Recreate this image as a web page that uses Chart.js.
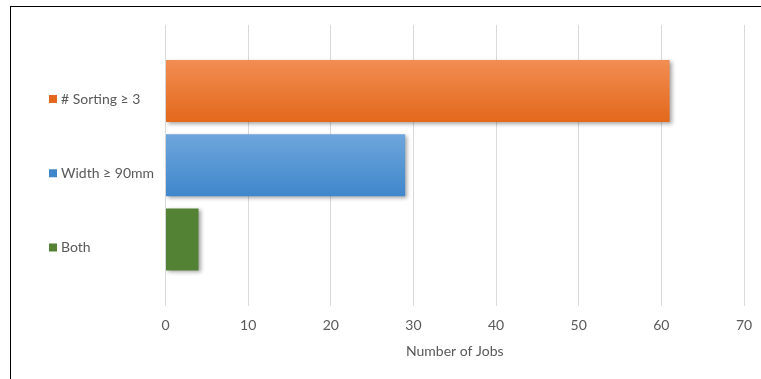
<!DOCTYPE html>
<html>
<head>
<meta charset="utf-8">
<script src="https://cdn.jsdelivr.net/npm/chart.js@4"></script>
<style>
  html, body { margin: 0; padding: 0; background: #fff; }
  #wrap { position: relative; width: 761px; height: 379px; }
  #frame { position: absolute; left: 10px; top: 6px; right: 0; bottom: 0;
           border-left: 1px solid #000; border-top: 1px solid #000; pointer-events: none; }
</style>
</head>
<body>
<div id="wrap">
  <canvas id="myChart" width="761" height="379"></canvas>
  <div id="frame"></div>
</div>
<script>
// datos del grafico
const categories = ['# Sorting \u2265 3', 'Width \u2265 90mm', 'Both'];
const jobs = [61, 29, 4];
const colorTop = ['#f28d52', '#6ea6dc', '#548235'];
const colorBottom = ['#e3681b', '#3f87cb', '#548235'];
const xTicks = [0, 10, 20, 30, 40, 50, 60, 70];

(() => {
    const ctx = document.getElementById('myChart').getContext('2d');

    // degradado vertical por barra
    const barFill = (c) => {
        const chart = c.chart;
        const i = c.dataIndex;
        const y = chart.scales && chart.scales.y;
        if (!chart.chartArea || !y) return colorBottom[i];
        const mid = y.getPixelForValue(i + 1);
        const g = chart.ctx.createLinearGradient(0, mid - 31, 0, mid + 31);
        g.addColorStop(0, colorTop[i]);
        g.addColorStop(1, colorBottom[i]);
        return g;
    };

    const sombra = {
        id: 'sombra',
        beforeDatasetsDraw(chart) {
            const c = chart.ctx;
            c.save();
            c.shadowColor = 'rgba(0,0,0,0.35)';
            c.shadowBlur = 4;
            c.shadowOffsetX = 2;
            c.shadowOffsetY = 2;
        },
        afterDatasetsDraw(chart) {
            chart.ctx.restore();
        }
    };

    // cuadritos de color junto a las etiquetas
    const cuadritos = {
        id: 'cuadritos',
        afterDraw(chart) {
            const c = chart.ctx;
            const y = chart.scales.y;
            c.save();
            categories.forEach((cat, i) => {
                const py = y.getPixelForValue(i + 1) + 8;
                c.fillStyle = colorBottom[i];
                c.fillRect(y.left - 12, py - 4, 8, 8);
            });
            c.restore();
        }
    };

    new Chart(ctx, {
        type: 'bar',
        data: {
            datasets: [{
                label: 'Number of Jobs',
                data: jobs.map((v, i) => ({ x: v, y: i + 1 })),
                backgroundColor: barFill,
                borderWidth: 0,
                barPercentage: 0.835,
                categoryPercentage: 1
            }]
        },
        options: {
            indexAxis: 'y',
            responsive: false,
            animation: false,
            layout: { padding: { left: 61, right: 17, top: 25, bottom: 19 } },
            plugins: {
                legend: { display: false },
                tooltip: { enabled: false }
            },
            scales: {
                x: {
                    type: 'linear',
                    min: 0,
                    max: 70,
                    afterBuildTicks: (s) => { s.ticks = xTicks.map(v => ({ value: v })); },
                    afterFit: (s) => { s.height = 54; s.paddingRight = 0; s.paddingLeft = 0; },
                    grid: { color: '#d9d9d9', drawTicks: false },
                    border: { display: false },
                    ticks: { color: '#595959', font: { family: 'Lato', size: 14 }, padding: 11 },
                    title: {
                        display: true,
                        text: 'Number of Jobs',
                        color: '#595959',
                        font: { family: 'Lato', size: 14 },
                        padding: { top: 0, bottom: 0 }
                    }
                },
                y: {
                    type: 'linear',
                    reverse: true,
                    offset: false,
                    bounds: 'data',
                    grace: 0,
                    min: 0.111,
                    max: 3.896,
                    afterBuildTicks: (s) => { s.ticks = categories.map((c, i) => ({ value: i + 1 })); },
                    afterFit: (s) => { s.width = 104.5; },
                    grid: { display: false },
                    border: { display: false },
                    ticks: {
                        callback: (v) => categories[v - 1],
                        color: '#595959',
                        font: { family: 'Lato', size: 14 },
                        crossAlign: 'far',
                        labelOffset: 8
                    }
                }
            }
        },
        plugins: [sombra, cuadritos]
    });
})();
</script>
</body>
</html>
